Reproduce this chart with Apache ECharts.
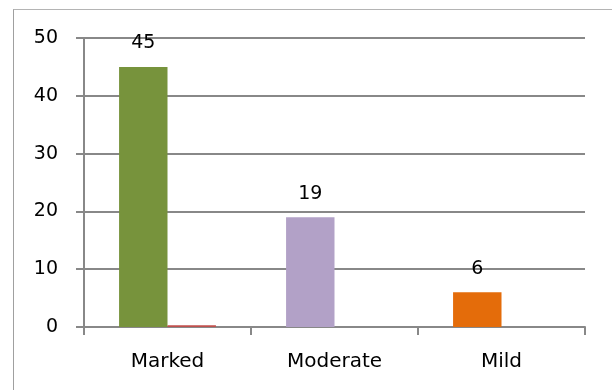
<!DOCTYPE html>
<html>
<head>
<meta charset="utf-8">
<script src="https://cdn.jsdelivr.net/npm/echarts@6/dist/echarts.min.js"></script>
<style>
  html, body { margin: 0; padding: 0; background: #fff; }
  #main { width: 612px; height: 390px; }
  /* frame of the chart area, only the left and top edges show */
  .frame {
    position: absolute; left: 13px; top: 9px; width: 620px; height: 400px;
    border-left: 1px solid #a0a0a0; border-top: 1px solid #b4b4b4;
    pointer-events: none;
  }
</style>
</head>
<body>
<div id="main"></div>
<div class="frame"></div>
<script>
// categories and values
var categories = ["Marked", "Moderate", "Mild"];
var severityValues = [45, 19, 6];
var secondValues = [0.3, 0, 0];
var barColors = ["#77933C", "#B2A1C7", "#E46C0A"];
var yTicks = [0, 10, 20, 30, 40, 50];

var chart = echarts.init(document.getElementById("main"));
var font = "DejaVu Sans";
var gray = "#888888";

chart.setOption({
  animation: false,
  grid: {
    left: 84,
    right: 27,
    top: 38,
    bottom: 63
  },
  xAxis: {
    type: "category",
    data: categories,
    axisLine: { lineStyle: { color: gray, width: 2 } },
    axisTick: { show: true, length: 8, lineStyle: { color: gray, width: 2 } },
    axisLabel: { margin: 25, color: "#000", fontSize: 20, fontFamily: font }
  },
  yAxis: {
    type: "value",
    min: yTicks[0],
    max: yTicks[yTicks.length - 1],
    interval: 10,
    axisLine: { show: true, lineStyle: { color: gray, width: 2 } },
    axisTick: { show: true, length: 8, lineStyle: { color: gray, width: 2 } },
    splitLine: { lineStyle: { color: gray, width: 2 } },
    axisLabel: { margin: 26, color: "#000", fontSize: 19, fontFamily: font }
  },
  series: [
    {
      type: "bar",
      barGap: "0%",
      barCategoryGap: "42%",
      data: severityValues.map(function (v, i) {
        return { value: v, itemStyle: { color: barColors[i] } };
      }),
      label: {
        show: true,
        position: "top",
        distance: 14,
        color: "#000",
        fontSize: 19,
        fontFamily: font
      }
    },
    {
      type: "bar",
      barGap: "0%",
      barCategoryGap: "42%",
      itemStyle: { color: "#C0504D" },
      data: secondValues
    }
  ]
});
</script>
</body>
</html>
